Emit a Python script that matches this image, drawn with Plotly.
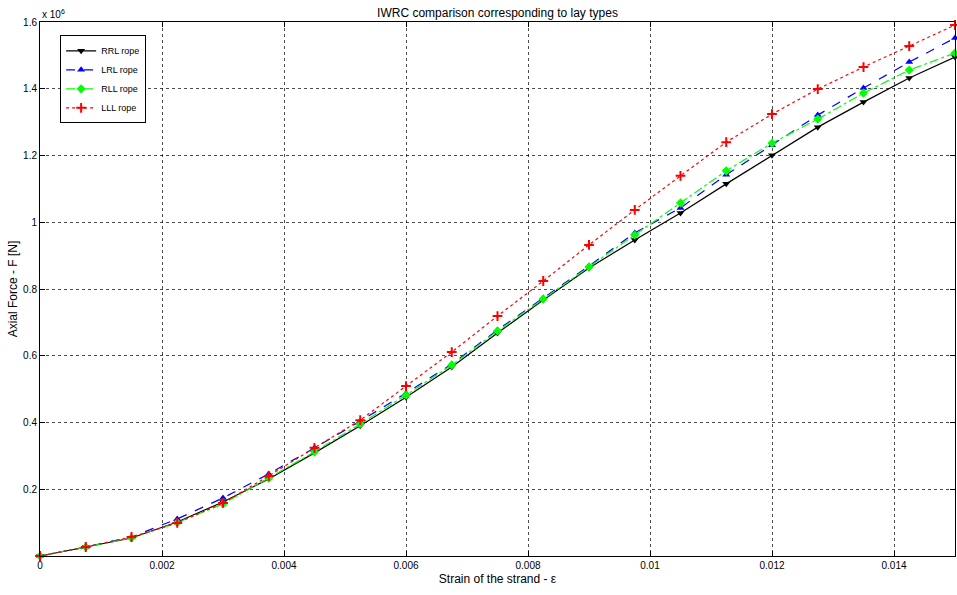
import plotly.graph_objects as go

# Strain samples (21 load steps)
strain = [i * 0.00075 for i in range(21)]

# Axial force of the strand, in units of 1e6 N
force_rrl = [0.0, 0.027, 0.054, 0.102, 0.162, 0.231, 0.309, 0.390, 0.476, 0.566, 0.668,
             0.767, 0.863, 0.947, 1.028, 1.115, 1.201, 1.285, 1.360, 1.432, 1.495]
force_lrl = [0.0, 0.027, 0.057, 0.111, 0.174, 0.246, 0.324, 0.404, 0.488, 0.575, 0.677,
             0.773, 0.869, 0.968, 1.043, 1.142, 1.231, 1.321, 1.402, 1.480, 1.552]
force_rll = [0.0, 0.027, 0.054, 0.100, 0.156, 0.234, 0.312, 0.396, 0.482, 0.572, 0.674,
             0.770, 0.866, 0.962, 1.058, 1.154, 1.237, 1.309, 1.387, 1.456, 1.507]
force_lll = [0.0, 0.027, 0.057, 0.099, 0.159, 0.240, 0.324, 0.407, 0.509, 0.611, 0.719,
             0.824, 0.932, 1.037, 1.139, 1.240, 1.324, 1.399, 1.465, 1.528, 1.591]

series_names = ["RRL rope", "LRL rope", "RLL rope", "LLL rope"]

x_tickvals = [0, 0.002, 0.004, 0.006, 0.008, 0.010, 0.012, 0.014]
x_ticktext = ["0", "0.002", "0.004", "0.006", "0.008", "0.01", "0.012", "0.014"]
y_tickvals = [0.2, 0.4, 0.6, 0.8, 1.0, 1.2, 1.4, 1.6]
y_ticktext = ["0.2", "0.4", "0.6", "0.8", "1", "1.2", "1.4", "1.6"]

styles = [
    dict(color="black", dash="solid", symbol="triangle-down"),
    dict(color="blue", dash="dash", symbol="triangle-up"),
    dict(color="#00ff00", dash="dashdot", symbol="diamond"),
    dict(color="red", dash="dot", symbol="cross-thin"),
]

fig = go.Figure()
for name, ys, st in zip(series_names, [force_rrl, force_lrl, force_rll, force_lll], styles):
    marker = dict(symbol=st["symbol"], size=7, color=st["color"])
    if st["symbol"] == "cross-thin":
        marker = dict(symbol="cross-thin", size=7, color=st["color"],
                      line=dict(color=st["color"], width=2))
    fig.add_trace(go.Scatter(
        x=strain, y=ys, name=name, mode="lines+markers",
        line=dict(color=st["color"], dash=st["dash"], width=1.2),
        marker=marker, cliponaxis=False,
    ))

axis_common = dict(
    showline=True, linecolor="black", linewidth=1, mirror="ticks",
    ticks="inside", ticklen=5, tickcolor="black",
    showgrid=True, gridcolor="rgba(0,0,0,0.7)", griddash="dot", gridwidth=1,
    zeroline=False, tickfont=dict(family="Liberation Sans", size=10, color="black"),
)

fig.update_xaxes(range=[0, 0.015], tickvals=x_tickvals, ticktext=x_ticktext,
                 title=dict(text="Strain of the strand - ε", standoff=4,
                            font=dict(family="Liberation Sans", size=12, color="black")),
                 **axis_common)
fig.update_yaxes(range=[0, 1.6], tickvals=y_tickvals, ticktext=y_ticktext,
                 title=dict(text="Axial Force - F [N]", standoff=2,
                            font=dict(family="Liberation Sans", size=12, color="black")),
                 **axis_common)

fig.add_annotation(text="x 10<sup>6</sup>", xref="paper", yref="paper", x=0.0, y=1.0,
                   xanchor="left", yanchor="bottom", showarrow=False,
                   font=dict(family="Liberation Sans", size=10, color="black"))

fig.update_layout(
    width=957, height=595,
    margin=dict(l=40, r=2, t=22, b=39),
    paper_bgcolor="white", plot_bgcolor="white",
    title=dict(text="IWRC comparison corresponding to lay types", xref="paper", x=0.5,
               xanchor="center", y=0.985, yanchor="top",
               font=dict(family="Liberation Sans", size=12, color="black")),
    legend=dict(x=0.022, y=0.975, xanchor="left", yanchor="top",
                bgcolor="white", bordercolor="black", borderwidth=1,
                font=dict(family="Liberation Sans", size=9, color="black"),
                tracegroupgap=0, itemwidth=30),
    showlegend=True,
)

fig.write_html("out.html")
